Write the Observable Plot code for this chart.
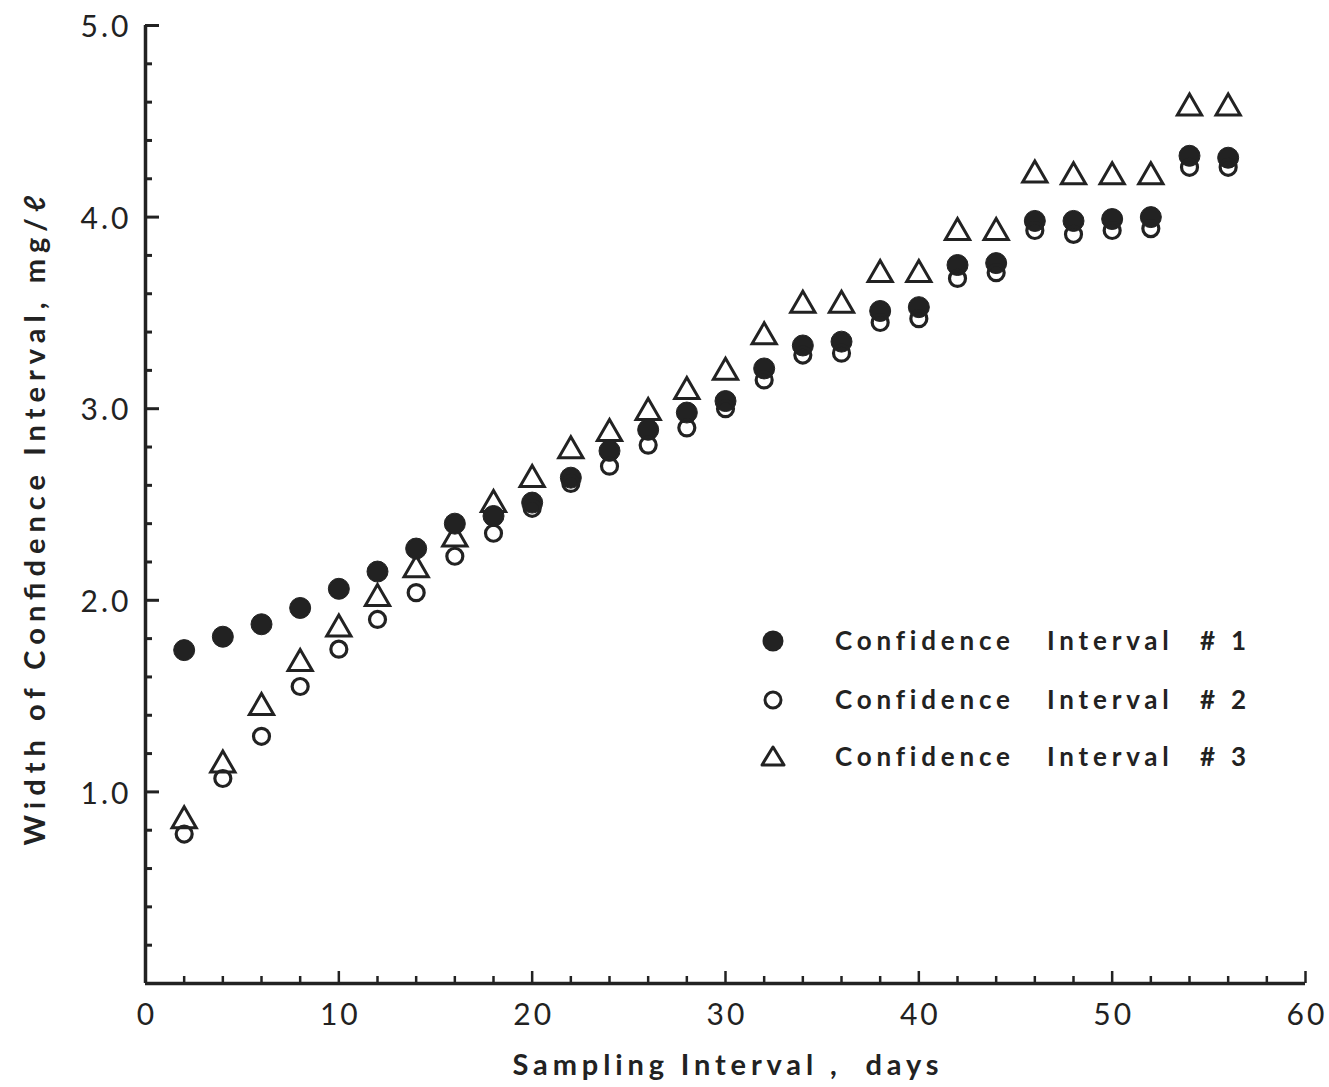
<!DOCTYPE html>
<html>
<head>
<meta charset="utf-8">
<script src="https://cdn.jsdelivr.net/npm/d3@7"></script>
<script src="https://cdn.jsdelivr.net/npm/@observablehq/plot@0.6"></script>
<style>
  html, body { margin: 0; padding: 0; background: #fff; }
  #wrap { position: relative; width: 1329px; height: 1087px; }
  #legend { position: absolute; left: 0; top: 0; width: 1329px; height: 1087px; pointer-events: none;
            font-family: Lato, "Noto Sans", sans-serif; font-size: 26px; font-weight: 700; color: #222; letter-spacing: 4.8px; }
  #legend .sym { position: absolute; width: 30px; height: 30px; }
  #legend .word { position: absolute; line-height: 30px; white-space: pre; }
  #chart g[aria-label="y-axis tick label"] text { letter-spacing: 3px; }
  #chart g[aria-label="x-axis tick label"] text { letter-spacing: 3px; }
</style>
</head>
<body>
<div id="wrap">
  <div id="chart"></div>
  <div id="legend"></div>
</div>
<script>
const days = [2,4,6,8,10,12,14,16,18,20,22,24,26,28,30,32,34,36,38,40,42,44,46,48,50,52,54,56];
const ci1 = [1.74,1.81,1.875,1.96,2.06,2.15,2.27,2.40,2.44,2.51,2.64,2.78,2.89,2.98,3.04,3.21,3.33,3.35,3.51,3.53,3.75,3.76,3.98,3.98,3.99,4.00,4.32,4.31];
const ci2 = [0.78,1.07,1.29,1.55,1.745,1.90,2.04,2.23,2.35,2.48,2.61,2.70,2.81,2.90,3.00,3.15,3.28,3.29,3.45,3.47,3.68,3.71,3.93,3.91,3.93,3.94,4.26,4.26];
const ci3 = [0.85,1.14,1.44,1.67,1.85,2.01,2.16,2.32,2.50,2.63,2.78,2.87,2.98,3.09,3.19,3.375,3.54,3.54,3.70,3.70,3.92,3.92,4.22,4.21,4.21,4.21,4.57,4.57];
const seriesWords = [["Confidence", "Interval", "# 1"], ["Confidence", "Interval", "# 2"], ["Confidence", "Interval", "# 3"]];
const xTickLabels = [0,10,20,30,40,50,60];
const yTickLabels = [1,2,3,4,5];
const xMinorTicks = d3.range(2, 61, 2);
const yMinorTicks = d3.range(1, 26).map(i => +(i * 0.2).toFixed(1));
const xTitle = "Sampling Interval ,  days";
const yTitle = "Width of Confidence Interval, mg/ℓ";

const s1 = days.map((d, i) => ({day: d, v: ci1[i]}));
const s2 = days.map((d, i) => ({day: d, v: ci2[i]}));
const s3 = days.map((d, i) => ({day: d, v: ci3[i]}));

const W = 1329, H = 1087, mt = 25, mb = 104, ml = 145, mr = 24;
const innerH = H - mt - mb, innerW = W - ml - mr;
const ink = "#222";

const chart = Plot.plot({
  width: W, height: H,
  marginTop: mt, marginBottom: mb, marginLeft: ml, marginRight: mr,
  style: {fontFamily: "Lato, 'Noto Sans', sans-serif", fontSize: "30px", color: ink, background: "#fff"},
  x: {domain: [0, 60]},
  y: {domain: [0, 5]},
  marks: [
    Plot.axisX(xTickLabels, {tickSize: 0, tickPadding: 20, fontSize: 30, label: null, fill: ink, dx: 1.5}),
    Plot.axisY(yTickLabels, {tickSize: 0, tickPadding: 14, fontSize: 30, tickFormat: d3.format(".1f"), label: null, fill: ink, dy: 2}),
    Plot.tickX(xMinorTicks.filter(d => d % 10 !== 0), {x: d => d, insetTop: innerH - 7, stroke: ink, strokeWidth: 2.5}),
    Plot.tickX(xTickLabels, {x: d => d, insetTop: innerH - 12, stroke: ink, strokeWidth: 2.5}),
    Plot.tickY(yMinorTicks.filter(d => Math.abs(d - Math.round(d)) > 1e-6), {y: d => d, insetRight: innerW - 7, stroke: ink, strokeWidth: 3}),
    Plot.tickY(yTickLabels, {y: d => d, insetRight: innerW - 14, stroke: ink, strokeWidth: 3}),
    Plot.ruleX([0], {stroke: ink, strokeWidth: 3.5}),
    Plot.ruleY([0], {stroke: ink, strokeWidth: 3.5}),
    Plot.dot(s3, {x: "day", y: "v", symbol: "triangle", r: 9, stroke: ink, strokeWidth: 3, fill: "#fff"}),
    Plot.dot(s1, {x: "day", y: "v", symbol: "circle", r: 10.5, fill: ink, stroke: ink, strokeWidth: 1}),
    Plot.dot(s2, {x: "day", y: "v", symbol: "circle", r: 8, stroke: ink, strokeWidth: 3.2, fill: "none"}),
    Plot.text([xTitle], {frameAnchor: "bottom", textAnchor: "middle", dy: 91, fontSize: 29, fontWeight: 700, fill: ink}),
    Plot.text([yTitle], {frameAnchor: "left", textAnchor: "middle", dx: -110, dy: 16, rotate: -90, fontSize: 29, fontWeight: 700, fill: ink})
  ]
});
document.getElementById("chart").appendChild(chart);

// stretch axis titles to the reference's letter-spaced lengths
d3.select(chart).selectAll("text").each(function () {
  const t = this.textContent;
  if (t === xTitle) d3.select(this).attr("textLength", 426).attr("lengthAdjust", "spacing");
  if (t === yTitle) d3.select(this).attr("textLength", 650).attr("lengthAdjust", "spacing");
});

// legend (inside the plot frame, lower right)
const legend = document.getElementById("legend");
const symbols = [
  '<circle cx="15" cy="15" r="10.5" fill="' + ink + '"/>',
  '<circle cx="15" cy="15" r="8" fill="none" stroke="' + ink + '" stroke-width="3"/>',
  '<path d="M15,5 L26,23 L4,23 Z" fill="none" stroke="' + ink + '" stroke-width="3" stroke-linejoin="round"/>'
];
const rowY = [641, 700, 757];
const wordX = [835, 1047, 1200];
seriesWords.forEach((words, i) => {
  const s = document.createElement("div");
  s.className = "sym";
  s.style.left = (773 - 15) + "px";
  s.style.top = (rowY[i] - 15) + "px";
  s.innerHTML = '<svg width="30" height="30" viewBox="0 0 30 30">' + symbols[i] + '</svg>';
  legend.appendChild(s);
  words.forEach((w, j) => {
    const t = document.createElement("div");
    t.className = "word";
    t.style.left = wordX[j] + "px";
    t.style.top = (rowY[i] - 16) + "px";
    t.textContent = w;
    legend.appendChild(t);
  });
});
</script>
</body>
</html>
